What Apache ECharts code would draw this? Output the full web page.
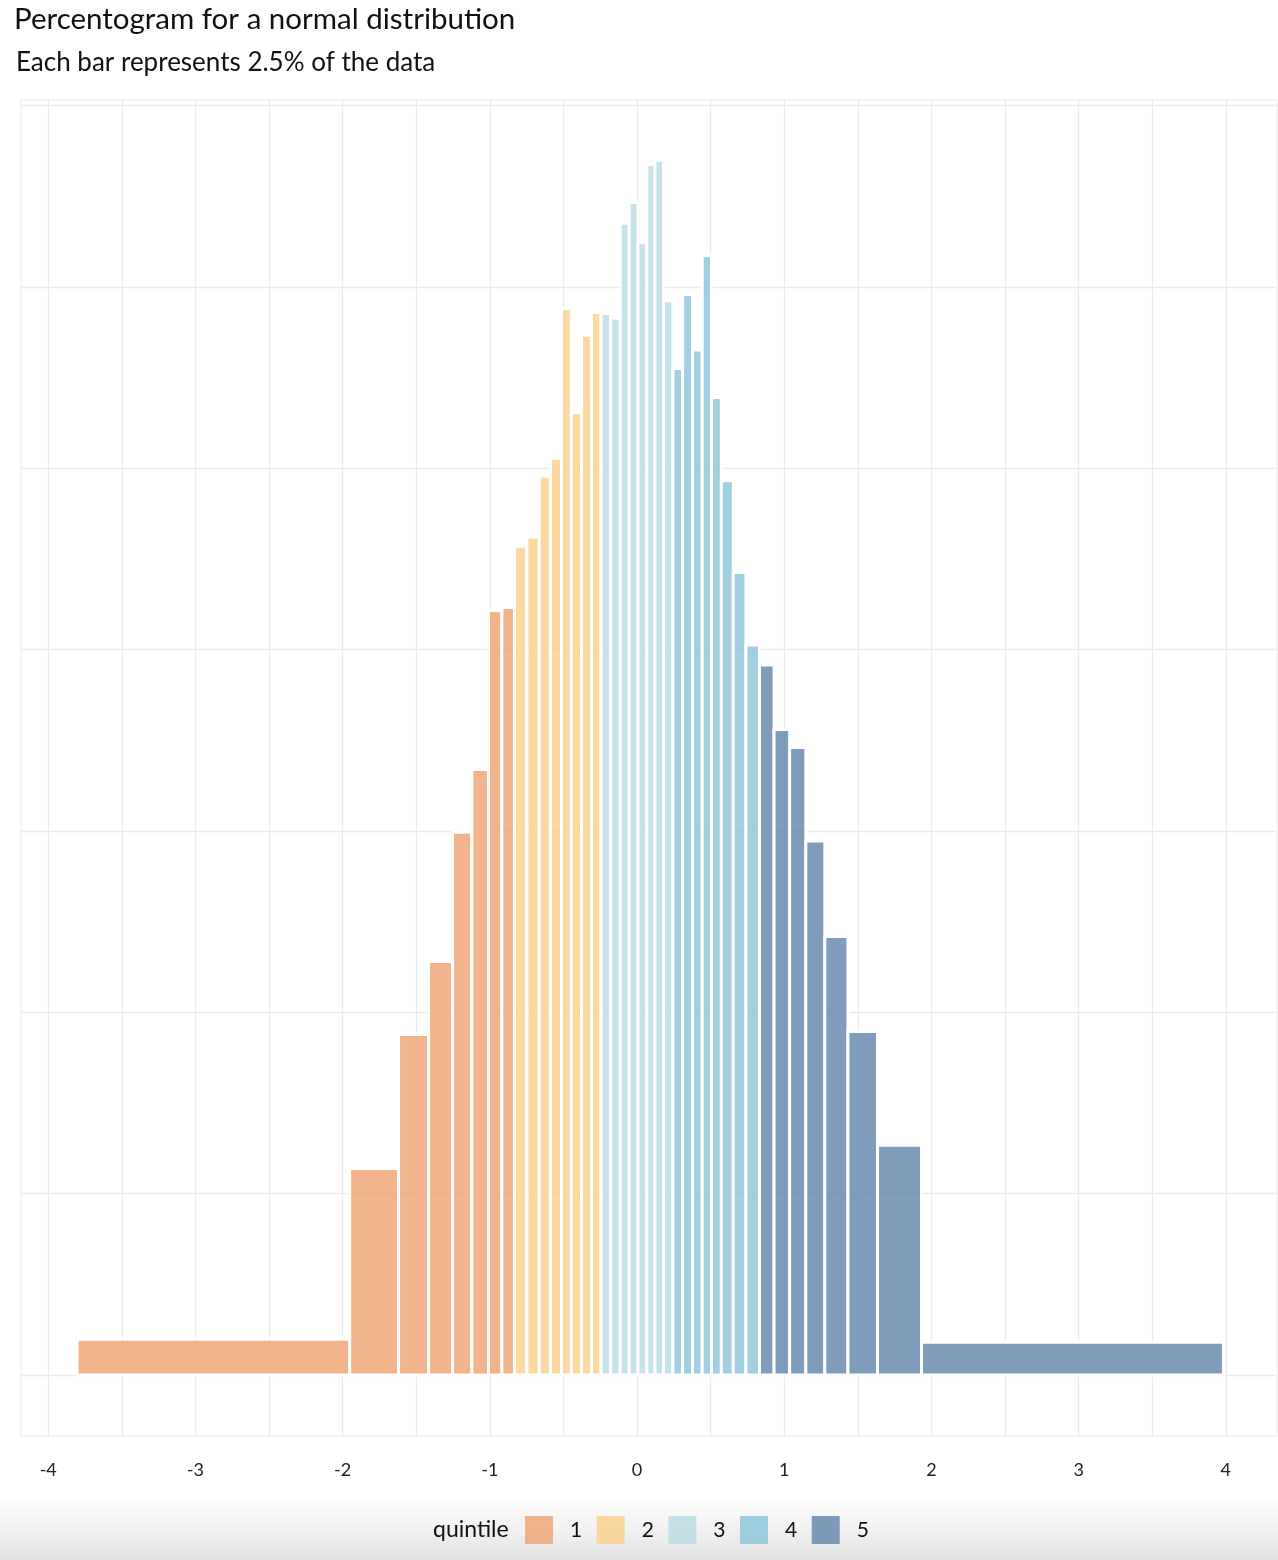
<!DOCTYPE html>
<html>
<head>
<meta charset="utf-8">
<style>
html,body{margin:0;padding:0;background:#ffffff;}
#chart{width:1278px;height:1560px;}
</style>
<script src="https://cdn.jsdelivr.net/npm/echarts@6.0.0/dist/echarts.min.js"></script>
</head>
<body>
<div id="chart"></div>
<script>
// Bin edges of the percentogram (each bin holds 2.5% of the data)
const binEdges = [
  -3.804, -1.952, -1.620, -1.416, -1.253, -1.122, -1.009, -0.918, -0.832,
  -0.748, -0.664, -0.588, -0.513, -0.446, -0.377, -0.309, -0.244,
  -0.179, -0.114, -0.053, 0.007, 0.067, 0.122, 0.180, 0.244,
  0.310, 0.377, 0.443, 0.506, 0.573, 0.654, 0.740, 0.832,
  0.931, 1.037, 1.147, 1.276, 1.433, 1.634, 1.933, 3.984
];
// Bar heights (density)
const density = [
  0.0131, 0.0759, 0.1252, 0.1520, 0.1995, 0.2226, 0.2811, 0.2822,
  0.3047, 0.3080, 0.3304, 0.3370, 0.3921, 0.3538, 0.3823, 0.3906,
  0.3903, 0.3885, 0.4234, 0.4311, 0.4163, 0.4450, 0.4466, 0.3949,
  0.3700, 0.3972, 0.3768, 0.4115, 0.3594, 0.3288, 0.2950, 0.2684,
  0.2610, 0.2373, 0.2307, 0.1963, 0.1612, 0.1263, 0.0845, 0.0120
];
// Quintile of each bar
const quintile = [
  1,1,1,1,1,1,1,1,
  2,2,2,2,2,2,2,2,
  3,3,3,3,3,3,3,3,
  4,4,4,4,4,4,4,4,
  5,5,5,5,5,5,5,5
];
const quintileNames = ['1', '2', '3', '4', '5'];
const quintileColors = [
  'rgba(239,161,111,0.8)',
  'rgba(251,207,138,0.8)',
  'rgba(185,220,229,0.8)',
  'rgba(136,195,216,0.8)',
  'rgba(95,131,169,0.8)'
];
const xGridValues = [-4, -3.5, -3, -2.5, -2, -1.5, -1, -0.5, 0, 0.5, 1, 1.5, 2, 2.5, 3, 3.5, 4];
const xTickLabels = [-4, -3, -2, -1, 0, 1, 2, 3, 4];
const yGridValues = [0, 0.06667, 0.13333, 0.2, 0.26667, 0.33333, 0.4, 0.46667];

const FONT = 'Lato, "Open Sans", sans-serif';
const GRID_COLOR = '#ebebeb';

function renderBar(params, api) {
  const topLeft = api.coord([api.value(0), api.value(2)]);
  const bottomRight = api.coord([api.value(1), 0]);
  return {
    type: 'rect',
    shape: {
      x: topLeft[0],
      y: topLeft[1],
      width: bottomRight[0] - topLeft[0],
      height: bottomRight[1] - topLeft[1]
    },
    style: {
      fill: api.visual('color'),
      stroke: '#ffffff',
      lineWidth: 3
    }
  };
}

const series = quintileNames.map(function (name, qi) {
  const data = [];
  for (let i = 0; i < density.length; i++) {
    if (quintile[i] === qi + 1) {
      data.push([binEdges[i], binEdges[i + 1], density[i]]);
    }
  }
  return {
    name: name,
    type: 'custom',
    renderItem: renderBar,
    encode: { x: [0, 1], y: 2 },
    itemStyle: { color: quintileColors[qi] },
    data: data
  };
});

const chart = echarts.init(document.getElementById('chart'), null, { renderer: 'canvas' });
chart.setOption({
  backgroundColor: '#ffffff',
  animation: false,
  title: [
    {
      text: 'Percentogram for a normal distribution',
      left: 14, top: 4, padding: 0,
      textStyle: { fontFamily: FONT, fontSize: 29.5, fontWeight: 'normal', color: '#111' }
    },
    {
      text: 'Each bar represents 2.5% of the data',
      left: 16, top: 50, padding: 0,
      textStyle: { fontFamily: FONT, fontSize: 26, fontWeight: 'normal', color: '#111' }
    },
    {
      text: 'quintile',
      left: 433, top: 1518, padding: 0,
      textStyle: { fontFamily: FONT, fontSize: 23, fontWeight: 'normal', color: '#111' }
    }
  ],
  legend: {
    data: quintileNames,
    left: 525, top: 1516, padding: 0,
    orient: 'horizontal',
    icon: 'rect',
    itemWidth: 28, itemHeight: 28, itemGap: 14.5,
    selectedMode: false,
    textStyle: { fontFamily: FONT, fontSize: 21, color: '#111', padding: [0, 0, 0, 12] }
  },
  grid: {
    left: 21, right: 1, top: 100, bottom: 124,
    show: true, borderColor: GRID_COLOR, borderWidth: 1, backgroundColor: 'transparent'
  },
  xAxis: {
    type: 'value',
    min: -4.1848, max: 4.3478,
    axisLine: { show: false },
    axisTick: { show: false, customValues: xGridValues },
    axisLabel: { customValues: xTickLabels, fontFamily: FONT, fontSize: 18, color: '#222', margin: 25 },
    splitLine: { show: true, lineStyle: { color: GRID_COLOR, width: 1.3 } }
  },
  yAxis: {
    type: 'value',
    min: -0.02243, max: 0.46875,
    axisLine: { show: false },
    axisTick: { show: false, customValues: yGridValues },
    axisLabel: { show: false },
    splitLine: { show: true, lineStyle: { color: GRID_COLOR, width: 1.3 } }
  },
  graphic: [
    {
      type: 'rect', z: -1, silent: true,
      shape: { x: 0, y: 1494, width: 1278, height: 66 },
      style: {
        fill: new echarts.graphic.LinearGradient(0, 0, 0, 1, [
          { offset: 0, color: 'rgba(232,232,232,0)' },
          { offset: 1, color: 'rgba(226,226,226,1)' }
        ])
      }
    }
  ],
  series: series
});
</script>
</body>
</html>
